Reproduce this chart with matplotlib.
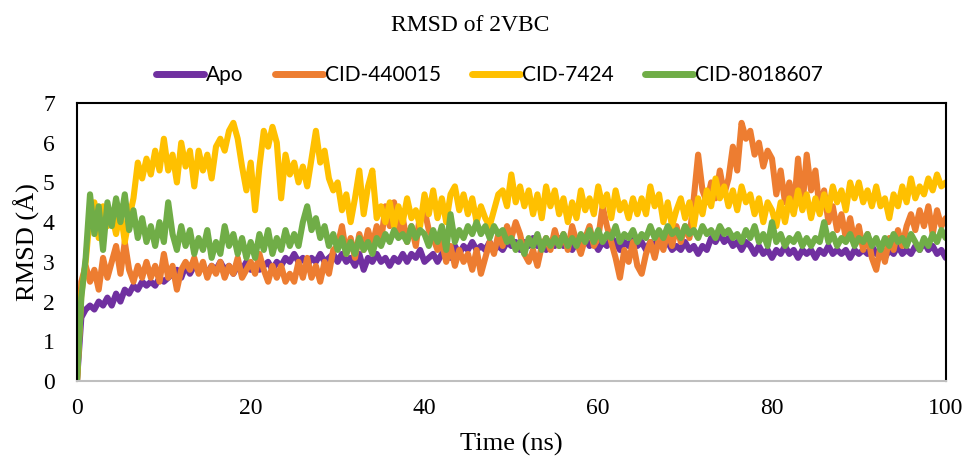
import numpy as np
import matplotlib
matplotlib.use('Agg')
import matplotlib.pyplot as plt

apo = [
    0, 1.6, 1.8, 1.9, 1.8, 2.0, 1.9, 2.1, 1.9, 2.2,
    2.0, 2.3, 2.2, 2.4, 2.3, 2.5, 2.4, 2.5, 2.4, 2.6,
    2.5, 2.6, 2.7, 2.8, 2.6, 2.9, 2.7, 2.9, 2.8, 2.9,
    2.7, 2.9, 2.8, 3.0, 2.8, 2.9, 2.7, 2.9, 2.8, 3.0,
    2.8, 2.9, 2.8, 2.9, 3.0, 2.8, 3.0, 2.9, 3.1, 3.0,
    3.2, 3.0, 3.1, 2.9, 3.1, 3.0, 3.2, 3.0, 3.1, 3.2,
    3.0, 3.2, 3.0, 3.1, 2.9, 3.2, 2.8, 3.1, 3.0, 3.2,
    3.0, 3.1, 2.9, 3.1, 3.0, 3.2, 3.0, 3.2, 3.1, 3.3,
    3.0, 3.1, 3.2, 3.0, 3.2, 3.3, 3.1, 3.4, 3.2, 3.4,
    3.3, 3.5, 3.3, 3.4, 3.3, 3.5, 3.3, 3.4, 3.3, 3.5,
    3.4, 3.5, 3.3, 3.5, 3.4, 3.6, 3.4, 3.5, 3.3, 3.5,
    3.4, 3.6, 3.4, 3.5, 3.3, 3.5, 3.4, 3.6, 3.4, 3.5,
    3.3, 3.5, 3.4, 3.6, 3.5, 3.3, 3.5, 3.4, 3.6, 3.4,
    3.5, 3.3, 3.5, 3.4, 3.6, 3.4, 3.5, 3.3, 3.4, 3.3,
    3.5, 3.3, 3.4, 3.2, 3.4, 3.3, 3.6, 3.5, 3.7, 3.5,
    3.6, 3.4, 3.5, 3.3, 3.5, 3.4, 3.2, 3.4, 3.2, 3.3,
    3.1, 3.3, 3.2, 3.4, 3.2, 3.3, 3.1, 3.3, 3.2, 3.3,
    3.1, 3.3, 3.2, 3.4, 3.2, 3.3, 3.2, 3.3, 3.1, 3.3,
    3.2, 3.3, 3.2, 3.4, 3.2, 3.3, 3.1, 3.3, 3.2, 3.4,
    3.2, 3.3, 3.2, 3.4, 3.3, 3.5, 3.3, 3.4, 3.2, 3.3,
    3.1,
]
cid_440015 = [
    0, 2.5, 2.9, 2.5, 2.8, 2.3, 3.1, 2.6, 3.0, 3.4,
    2.7, 3.5, 2.8, 2.5, 2.9, 2.6, 3.0, 2.6, 2.9, 2.5,
    3.2, 2.6, 2.9, 2.3, 2.8, 3.0, 2.8, 3.1, 2.7, 3.0,
    2.6, 2.9, 2.7, 3.0, 2.6, 2.9, 2.7, 3.1, 2.6, 2.8,
    3.0, 2.7, 3.2, 2.8, 2.5, 2.9, 2.6, 2.9, 2.5, 2.7,
    2.5, 3.0, 2.6, 3.1, 2.6, 2.9, 2.5, 3.0, 2.7, 3.3,
    3.4, 3.9, 3.2, 3.6, 3.1, 3.7, 3.3, 3.8, 3.4, 3.9,
    3.5, 4.4, 3.9, 4.5, 3.7, 4.1, 3.5, 3.9, 3.4, 4.2,
    4.3, 3.8, 3.6, 3.3, 3.5, 3.0, 3.4, 2.9, 3.3, 3.0,
    3.2, 2.8, 3.3, 2.7, 3.1, 3.5, 3.2, 3.7, 3.4, 3.9,
    3.6, 4.0, 3.7, 3.2, 3.0, 3.3, 2.9, 3.4, 3.6, 3.3,
    3.8, 3.4, 3.7, 3.3, 3.9, 3.5, 3.2, 3.6, 3.9, 3.4,
    3.6, 4.4, 3.9, 3.5, 3.1, 2.6, 3.3, 3.0, 3.5, 2.9,
    2.7, 3.2, 3.5, 3.1, 3.6, 3.3, 3.8, 3.4, 3.9, 3.5,
    3.9, 3.6, 4.6, 5.7, 4.8, 4.5, 5.0, 4.6, 5.3, 4.7,
    5.1, 5.9, 5.3, 6.5, 6.1, 6.3, 5.7, 6.0, 5.4, 5.8,
    5.6, 4.7, 5.3, 4.5, 5.0, 4.3, 5.6, 4.4, 5.7, 4.8,
    5.3, 4.3, 4.8, 4.0, 4.4, 3.8, 4.2, 3.6, 4.1, 3.5,
    3.9, 3.3, 3.7, 3.1, 2.8, 3.4, 3.0, 3.6, 3.3, 3.8,
    3.4, 3.9, 4.2, 3.8, 4.3, 3.9, 4.4, 3.7, 4.3, 3.9,
    4.1,
]
cid_7424 = [
    0, 2.2, 3.0, 4.2, 4.5, 3.6, 4.4, 3.9, 4.2, 3.7,
    4.3, 3.5, 4.1, 4.6, 5.5, 5.1, 5.6, 5.2, 5.8, 5.3,
    6.1, 5.3, 5.7, 5.0, 6.0, 5.4, 5.8, 4.9, 5.8, 5.3,
    5.7, 5.1, 5.9, 6.1, 5.8, 6.3, 6.5, 6.1, 5.4, 4.8,
    5.5, 4.3, 5.4, 6.3, 5.9, 6.4, 6.0, 4.6, 5.7, 5.2,
    5.5, 5.0, 5.4, 4.9, 5.6, 6.3, 5.5, 5.8, 5.1, 4.8,
    5.0, 4.3, 4.7, 4.0, 4.6, 5.3, 4.2, 4.9, 5.3, 4.1,
    4.4, 4.0, 4.5, 3.9, 4.4, 4.0, 4.6, 4.1, 4.3, 3.9,
    4.7, 4.2, 4.8, 4.1, 4.6, 4.0, 4.7, 4.9, 4.3, 4.7,
    4.2, 4.6, 4.0, 4.4, 4.1, 3.9, 4.3, 4.7, 4.8, 4.4,
    5.2, 4.5, 4.9, 4.4, 4.8, 4.2, 4.7, 4.1, 4.9, 4.4,
    4.8, 4.2, 4.6, 4.0, 4.5, 4.1, 4.8, 4.3, 4.6, 4.2,
    4.9, 4.4, 4.7, 4.1, 4.8, 4.3, 4.5, 4.1, 4.6, 4.2,
    4.6, 4.2, 4.9, 4.4, 4.7, 4.0, 4.5, 3.9, 4.3, 4.6,
    4.1, 4.5, 3.9, 4.6, 4.2, 4.8, 4.4, 5.1, 4.6, 4.9,
    4.4, 4.8, 4.3, 4.9, 4.5, 4.7, 4.2, 4.6, 4.0, 4.5,
    4.3, 3.9, 4.5, 4.0, 4.6, 4.2, 4.8, 4.3, 4.7, 4.1,
    4.6, 4.2, 4.7, 4.3, 4.9, 4.5, 4.8, 4.3, 5.0, 4.6,
    5.0, 4.5, 4.8, 4.4, 4.9, 4.4, 4.6, 4.1, 4.7, 4.4,
    4.9, 4.5, 5.1, 4.6, 4.9, 4.7, 5.1, 4.8, 5.2, 4.9,
    5.0,
]
cid_8018607 = [
    0, 2.1, 3.1, 4.7, 3.7, 4.4, 3.3, 4.5, 3.9, 4.6,
    4.0, 4.7, 3.8, 4.3, 3.6, 4.1, 3.5, 3.9, 3.4, 4.0,
    3.5, 4.5, 3.7, 3.3, 3.9, 3.4, 3.8, 3.2, 3.6, 3.3,
    3.8, 3.1, 3.5, 3.2, 3.9, 3.4, 3.7, 3.2, 3.6, 3.1,
    3.5, 3.1, 3.7, 3.3, 3.8, 3.2, 3.6, 3.3, 3.8, 3.4,
    3.7, 3.4, 4.0, 4.4, 3.8, 4.1, 3.6, 3.9, 3.4, 3.7,
    3.3, 3.6, 3.2, 3.5, 3.2, 3.6, 3.3, 3.5, 3.2, 3.6,
    3.4, 3.7, 3.5, 3.8, 3.6, 3.7, 3.5, 3.9, 3.6, 3.8,
    3.7, 3.4, 3.8, 3.5, 3.9, 3.3, 4.2, 3.5, 3.8, 3.6,
    3.9, 3.7, 4.0, 3.7, 3.9, 3.6, 3.9, 3.7, 3.8, 3.5,
    3.6, 3.3, 3.5, 3.2, 3.6, 3.4, 3.7, 3.3, 3.6, 3.4,
    3.6, 3.4, 3.7, 3.4, 3.6, 3.4, 3.7, 3.5, 3.8, 3.5,
    3.8, 3.5, 3.7, 3.6, 3.9, 3.5, 3.7, 3.6, 3.8, 3.5,
    3.7, 3.6, 3.9, 3.6, 3.8, 3.6, 3.9, 3.7, 3.8, 3.6,
    3.9, 3.7, 3.8, 3.6, 3.9, 3.7, 3.8, 3.6, 3.9, 3.7,
    3.8, 3.6, 3.7, 3.5, 3.8, 3.6, 3.9, 3.5, 3.7, 3.4,
    4.0, 3.5, 3.7, 3.4, 3.6, 3.5, 3.7, 3.4, 3.6, 3.4,
    3.6, 3.5, 4.0, 3.5, 3.7, 3.4, 3.6, 3.5, 3.7, 3.4,
    3.6, 3.5, 3.7, 3.4, 3.6, 3.3, 3.6, 3.4, 3.7, 3.5,
    3.6, 3.4, 3.7, 3.5, 3.3, 3.6, 3.4, 3.7, 3.5, 3.8,
    3.6,
]

labels = ['Apo', 'CID-440015', 'CID-7424', 'CID-8018607']
colors = ['#7030A0', '#ED7D31', '#FFC000', '#70AD47']
series = [apo, cid_440015, cid_7424, cid_8018607]
time_ns = np.linspace(0, 100, len(apo))

plt.rcParams['font.family'] = ['Liberation Serif', 'DejaVu Serif']

fig = plt.figure(figsize=(9.66, 4.57), dpi=100)
ax = fig.add_axes([0.0797, 0.1663, 0.8993, 0.6083])

for vals, lab, c in zip(series, labels, colors):
    ax.plot(time_ns, vals, color=c, lw=4.4, label=lab,
            solid_joinstyle='round', solid_capstyle='round')

ax.set_xlim(0, 100)
ax.set_ylim(0, 7)
ax.set_xticks([0, 20, 40, 60, 80, 100])
ax.set_yticks(range(0, 8))
ax.tick_params(length=0, labelsize=17)
ax.tick_params(axis='x', pad=12)
ax.tick_params(axis='y', pad=16)
for s in ['left', 'top', 'right']:
    ax.spines[s].set_color('black')
    ax.spines[s].set_linewidth(1.5)
ax.spines['bottom'].set_color('#BFBFBF')
ax.spines['bottom'].set_linewidth(1.5)

ax.set_ylabel('RMSD (Å)', fontsize=19, labelpad=2)
ax.set_xlabel('Time (ns)', fontsize=19, labelpad=10)

fig.text(0.487, 0.945, 'RMSD of 2VBC', ha='center', va='center', fontsize=17)
leg = fig.legend(loc='center', bbox_to_anchor=(0.507, 0.836), ncol=4,
                 frameon=False, prop={'family': 'Lato', 'size': 15},
                 handlelength=2.3, handletextpad=0.1, columnspacing=1.5)
for h in leg.legend_handles:
    h.set_linewidth(5)

fig.savefig('out.png', dpi=100)
